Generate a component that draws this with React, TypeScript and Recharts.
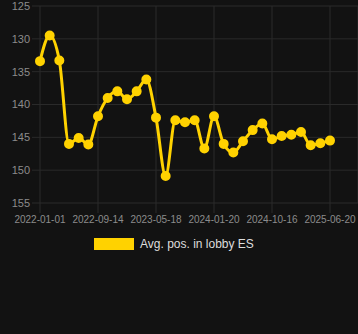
import React from 'react';
import { LineChart, Line, XAxis, YAxis, CartesianGrid } from 'recharts';

const dates = [
  '2022-01-01', '2022-02-13', '2022-03-28', '2022-05-10', '2022-06-22', '2022-08-03',
  '2022-09-14', '2022-10-25', '2022-12-05', '2023-01-15', '2023-02-25', '2023-04-07',
  '2023-05-18', '2023-06-28', '2023-08-08', '2023-09-18', '2023-10-29', '2023-12-09',
  '2024-01-20', '2024-03-05', '2024-04-19', '2024-06-03', '2024-07-18', '2024-09-01',
  '2024-10-16', '2024-11-26', '2025-01-06', '2025-02-16', '2025-03-29', '2025-05-09',
  '2025-06-20',
];

const avgPos = [
  133.4, 129.5, 133.3, 146.0, 145.1, 146.1, 141.8, 139.0, 138.0, 139.2, 138.0, 136.2,
  142.0, 150.9, 142.4, 142.7, 142.4, 146.7, 141.8, 146.0, 147.3, 145.6, 143.9, 142.9,
  145.3, 144.8, 144.6, 144.2, 146.2, 145.9, 145.5,
];

const xTicks = ['2022-01-01', '2022-09-14', '2023-05-18', '2024-01-20', '2024-10-16', '2025-06-20'];
const yTicks = [125, 130, 135, 140, 145, 150, 155];

const seriesName = 'Avg. pos. in lobby ES';

const data = dates.map((d, i) => ({ date: d, pos: avgPos[i] }));

const gold = '#ffd200';
const gridColor = '#2a2a2a';
const font = '"Liberation Sans", Arial, sans-serif';

export default function App() {
  return (
    <div style={{ position: 'absolute', left: 0, top: 0, width: 358, height: 334, background: '#121212' }}>
      <LineChart width={358} height={334} data={data} margin={{ top: 6, right: 0, bottom: 101, left: 0 }}>
        <CartesianGrid stroke={gridColor} />
        <XAxis
          dataKey="date"
          ticks={xTicks}
          interval={0}
          padding={{ left: 0, right: 28 }}
          height={30}
          tickSize={10}
          tickMargin={3}
          axisLine={false}
          tickLine={{ stroke: gridColor }}
          tick={{ fill: '#8c8c8c', fontSize: 10, fontFamily: font }}
        />
        <YAxis
          reversed
          domain={[125, 155]}
          ticks={yTicks}
          width={40}
          tickSize={8}
          tickMargin={2}
          axisLine={false}
          tickLine={{ stroke: gridColor }}
          tick={{ fill: '#8c8c8c', fontSize: 11, fontFamily: font }}
        />
        <Line
          type="monotone"
          dataKey="pos"
          name={seriesName}
          stroke={gold}
          strokeWidth={3}
          dot={{ r: 4, fill: gold, stroke: gold, strokeWidth: 2 }}
          activeDot={false}
          isAnimationActive={false}
        />
      </LineChart>
      {/* legend, placed like the original */}
      <div style={{ position: 'absolute', left: 94, top: 238, display: 'flex', alignItems: 'center', fontFamily: font }}>
        <span style={{ display: 'inline-block', width: 40, height: 12, background: gold }} />
        <span style={{ marginLeft: 6, fontSize: 12, lineHeight: '12px', color: '#dddddd' }}>{seriesName}</span>
      </div>
    </div>
  );
}
